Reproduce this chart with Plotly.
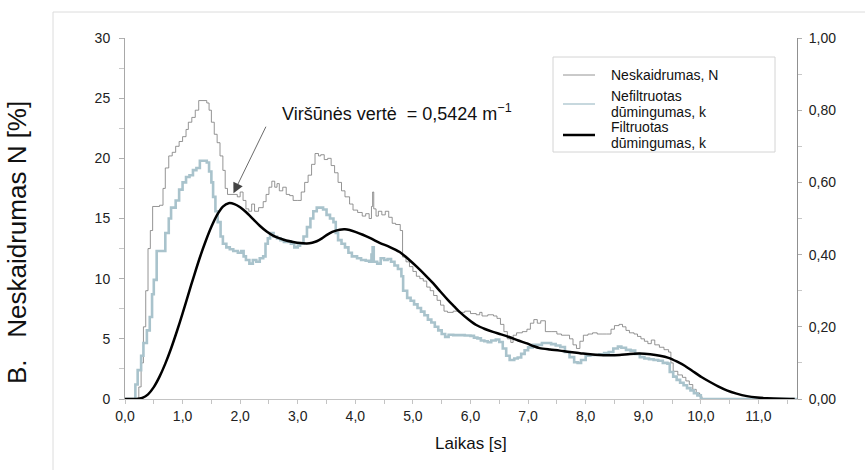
import plotly.graph_objects as go

# ---- data ----
# Neskaidrumas N [%] (left axis)
t_N = [0.0, 0.20, 0.24, 0.28, 0.32, 0.36, 0.40, 0.44, 0.48, 0.60, 0.66, 0.70, 0.76, 0.82, 0.88, 0.94,
       1.00, 1.06, 1.10, 1.16, 1.22, 1.28, 1.42, 1.46, 1.50, 1.55, 1.60, 1.65, 1.70, 1.74, 1.78, 1.95,
       2.00, 2.05, 2.10, 2.15, 2.20, 2.25, 2.32, 2.40, 2.45, 2.50, 2.55, 2.60, 2.64, 2.68, 2.74, 2.80,
       2.86, 2.92, 3.00, 3.06, 3.12, 3.18, 3.24, 3.30, 3.36, 3.40, 3.46, 3.52, 3.58, 3.64, 3.70, 3.76,
       3.82, 3.90, 3.96, 4.04, 4.12, 4.18, 4.24, 4.28, 4.30, 4.32, 4.36, 4.40, 4.46, 4.52, 4.58, 4.64,
       4.70, 4.78, 4.82, 4.88, 4.94, 5.00, 5.06, 5.12, 5.18, 5.24, 5.30, 5.36, 5.42, 5.48, 5.54, 5.60,
       5.70, 5.80, 5.90, 6.00, 6.10, 6.16, 6.20, 6.30, 6.40, 6.46, 6.52, 6.58, 6.64, 6.70, 6.74, 6.80,
       6.90, 6.98, 7.04, 7.10, 7.16, 7.22, 7.30, 7.40, 7.50, 7.58, 7.66, 7.72, 7.78, 7.84, 7.90, 7.96,
       8.04, 8.12, 8.20, 8.30, 8.36, 8.44, 8.50, 8.58, 8.64, 8.70, 8.76, 8.84, 8.90, 8.96, 9.02, 9.08,
       9.14, 9.20, 9.28, 9.36, 9.44, 9.48, 9.52, 9.60, 9.68, 9.74, 9.80, 9.86, 9.92, 9.98, 10.02, 11.67]
N_vals = [0, 0, 1.0, 3.0, 6.0, 9.0, 12.5, 14.0, 16.0, 16.1, 17.5, 19.2, 20.2, 20.5, 21.0, 21.4,
          21.8, 22.4, 23.0, 23.4, 24.0, 24.8, 24.6, 24.0, 23.0, 22.0, 21.3, 20.2, 19.0, 17.5, 17.0, 16.8,
          17.2, 16.5, 15.8, 15.6, 16.2, 15.6, 15.9, 16.4, 17.0, 17.6, 18.1, 17.6, 17.9, 17.3, 17.6, 17.0,
          16.9, 16.5, 16.5, 17.2, 18.0, 18.6, 19.5, 20.4, 20.2, 20.3, 19.9, 20.0, 19.4, 18.8, 18.0, 17.3,
          16.8, 16.2, 15.7, 15.5, 15.2, 15.4, 15.0, 16.0, 17.2, 15.8, 15.2, 15.6, 15.3, 15.6, 15.1, 14.6,
          14.5, 14.0, 11.8, 11.4, 11.0, 10.6, 10.2, 10.0, 9.8, 9.3, 9.0, 8.6, 8.2, 7.8, 7.3, 7.2,
          7.3, 7.2, 7.3, 7.1, 7.0, 7.2, 6.9, 7.0, 6.9, 6.7, 6.2, 5.6, 5.0, 4.7, 5.3, 5.5,
          5.6, 5.8, 6.3, 6.6, 6.3, 6.5, 5.6, 5.6, 5.4, 5.3, 5.3, 5.0, 4.5, 4.2, 4.8, 5.3,
          5.4, 5.5, 5.4, 5.4, 5.4, 5.8, 6.1, 6.2, 6.0, 5.7, 5.5, 5.4, 5.2, 5.0, 4.8, 4.6,
          4.9, 4.5, 4.3, 4.1, 3.9, 3.0, 2.3, 2.0, 1.8, 1.5, 1.2, 0.8, 0.5, 0.2, 0, 0]

# Nefiltruotas dumingumas k [1/m] (right axis)
t_k = [0.0, 0.14, 0.18, 0.22, 0.28, 0.32, 0.38, 0.43, 0.47, 0.50, 0.55, 0.66, 0.70, 0.76, 0.80, 0.88,
       0.94, 1.00, 1.06, 1.12, 1.18, 1.24, 1.30, 1.42, 1.46, 1.50, 1.53, 1.57, 1.61, 1.66, 1.70, 1.76,
       1.82, 1.88, 1.96, 2.02, 2.06, 2.10, 2.16, 2.22, 2.28, 2.34, 2.40, 2.44, 2.48, 2.52, 2.58, 2.64,
       2.70, 2.76, 2.82, 2.88, 2.94, 3.00, 3.04, 3.10, 3.16, 3.22, 3.27, 3.33, 3.44, 3.50, 3.56, 3.62,
       3.66, 3.70, 3.76, 3.82, 3.88, 3.94, 4.03, 4.10, 4.18, 4.24, 4.28, 4.30, 4.32, 4.38, 4.44, 4.50,
       4.56, 4.62, 4.68, 4.74, 4.80, 4.83, 4.90, 4.96, 5.02, 5.08, 5.14, 5.20, 5.26, 5.32, 5.38, 5.44,
       5.50, 5.56, 5.62, 5.70, 5.80, 5.90, 6.00, 6.06, 6.12, 6.18, 6.24, 6.30, 6.36, 6.44, 6.50, 6.56,
       6.62, 6.68, 6.76, 6.82, 6.88, 6.94, 7.00, 7.08, 7.16, 7.24, 7.32, 7.40, 7.48, 7.56, 7.64, 7.72,
       7.80, 7.86, 7.92, 8.00, 8.08, 8.16, 8.24, 8.32, 8.40, 8.48, 8.56, 8.62, 8.70, 8.78, 8.86, 8.94,
       9.02, 9.10, 9.18, 9.26, 9.34, 9.42, 9.46, 9.52, 9.58, 9.64, 9.70, 9.76, 9.82, 9.88, 9.94, 10.00,
       11.67]
k_raw = [0, 0, 0.04, 0.08, 0.12, 0.155, 0.19, 0.227, 0.29, 0.33, 0.41, 0.41, 0.46, 0.50, 0.53, 0.55,
         0.58, 0.60, 0.615, 0.62, 0.634, 0.64, 0.66, 0.655, 0.63, 0.60, 0.56, 0.52, 0.49, 0.45, 0.43, 0.42,
         0.415, 0.41, 0.405, 0.41, 0.395, 0.385, 0.375, 0.385, 0.38, 0.39, 0.395, 0.43, 0.445, 0.46, 0.45, 0.445,
         0.44, 0.435, 0.437, 0.43, 0.42, 0.425, 0.43, 0.45, 0.476, 0.50, 0.52, 0.53, 0.525, 0.51, 0.50, 0.49,
         0.46, 0.44, 0.43, 0.42, 0.405, 0.395, 0.39, 0.385, 0.383, 0.38, 0.40, 0.42, 0.38, 0.375, 0.39, 0.385,
         0.388, 0.38, 0.37, 0.36, 0.34, 0.30, 0.28, 0.272, 0.262, 0.252, 0.242, 0.232, 0.22, 0.212, 0.20, 0.19,
         0.18, 0.172, 0.178, 0.177, 0.177, 0.176, 0.175, 0.17, 0.168, 0.162, 0.16, 0.157, 0.162, 0.165, 0.158, 0.14,
         0.12, 0.108, 0.112, 0.115, 0.125, 0.135, 0.143, 0.15, 0.15, 0.155, 0.155, 0.152, 0.148, 0.144, 0.13, 0.116,
         0.102, 0.10, 0.108, 0.12, 0.122, 0.122, 0.124, 0.127, 0.13, 0.14, 0.145, 0.142, 0.136, 0.134, 0.125, 0.116,
         0.112, 0.11, 0.108, 0.106, 0.10, 0.098, 0.075, 0.062, 0.053, 0.045, 0.038, 0.03, 0.024, 0.016, 0.01, 0,
         0]

# Filtruotas dumingumas k [1/m] (right axis)
t_f = [0.0, 0.20, 0.30, 0.40, 0.50, 0.60, 0.70, 0.80, 0.90, 1.00, 1.10, 1.20, 1.30, 1.40, 1.50, 1.60,
       1.70, 1.80, 1.90, 2.00, 2.10, 2.22, 2.34, 2.46, 2.58, 2.69, 2.80, 2.92, 3.04, 3.16, 3.25, 3.33,
       3.42, 3.50, 3.60, 3.73, 3.82, 3.90, 4.00, 4.13, 4.28, 4.43, 4.60, 4.77, 4.92, 5.07, 5.21, 5.35,
       5.48, 5.61, 5.72, 5.82, 5.96, 6.10, 6.25, 6.39, 6.53, 6.68, 6.83, 6.98, 7.10, 7.20, 7.38, 7.55,
       7.72, 7.90, 8.08, 8.25, 8.42, 8.59, 8.77, 8.94, 9.12, 9.29, 9.44, 9.58, 9.72, 9.86, 10.01, 10.16,
       10.30, 10.45, 10.62, 10.80, 10.98, 11.15, 11.40, 11.63]
k_filt = [0, 0, 0.003, 0.013, 0.033, 0.062, 0.098, 0.140, 0.187, 0.237, 0.290, 0.342, 0.392, 0.437, 0.477, 0.510,
          0.533, 0.5424, 0.540, 0.531, 0.518, 0.499, 0.480, 0.464, 0.452, 0.445, 0.439, 0.435, 0.432, 0.431, 0.433, 0.437,
          0.445, 0.454, 0.463, 0.469, 0.470, 0.468, 0.463, 0.455, 0.444, 0.432, 0.421, 0.407, 0.388, 0.366, 0.344, 0.321,
          0.297, 0.274, 0.256, 0.240, 0.221, 0.205, 0.194, 0.186, 0.179, 0.171, 0.162, 0.154, 0.146, 0.141, 0.137, 0.134,
          0.130, 0.127, 0.124, 0.122, 0.121, 0.122, 0.125, 0.126, 0.124, 0.120, 0.114, 0.104, 0.092, 0.077, 0.061, 0.047,
          0.035, 0.024, 0.015, 0.008, 0.004, 0.002, 0.0005, 0]

legend_lines = [["Neskaidrumas, N"], ["Nefiltruotas", "dūmingumas, k"], ["Filtruotas", "dūmingumas, k"]]
x_ticks = [0, 1, 2, 3, 4, 5, 6, 7, 8, 9, 10, 11]
y_ticks = [0, 5, 10, 15, 20, 25, 30]
y2_ticks = [0, 0.2, 0.4, 0.6, 0.8, 1.0]

FONT = "Liberation Sans, Arial, sans-serif"
W, H = 865, 470
ML, MR, MT, MB = 125, 68, 38, 71
PW, PH = W - ML - MR, H - MT - MB


def px_x(p):
    return (p - ML) / PW


def px_y(p):
    return (H - MB - p) / PH


styles = [dict(color="#7a7a7a", width=0.8, shape="hv"),
          dict(color="#a9c3cc", width=2.6, shape="hv"),
          dict(color="#000000", width=2.5, shape="spline", smoothing=0.8)]
legend_sample_widths = [0.8, 1.3, 2.5]

fig = go.Figure()
fig.add_trace(go.Scatter(x=t_N, y=N_vals, name="Neskaidrumas, N", mode="lines",
                         line=styles[0], yaxis="y", showlegend=False))
fig.add_trace(go.Scatter(x=t_k, y=k_raw, name="Nefiltruotas dūmingumas, k", mode="lines",
                         line=styles[1], yaxis="y2", showlegend=False))
fig.add_trace(go.Scatter(x=t_f, y=k_filt, name="Filtruotas dūmingumas, k", mode="lines",
                         line=styles[2], yaxis="y2", showlegend=False))

peak_i = k_filt.index(max(k_filt))

shapes = [
    # outer light frame
    dict(type="rect", xref="paper", yref="paper", x0=px_x(53), y0=px_y(12), x1=px_x(900), y1=px_y(500),
         line=dict(color="#dcdcdc", width=1), fillcolor="rgba(0,0,0,0)", layer="below"),
    # legend box
    dict(type="rect", xref="paper", yref="paper", x0=px_x(553), y0=px_y(57), x1=px_x(775), y1=px_y(152),
         line=dict(color="#d4d4d4", width=1), fillcolor="white", layer="above"),
]
annotations = [
    dict(text="Viršūnės vertė\u00a0 = 0,5424 m<sup>−1</sup>", xref="paper", yref="paper",
         x=px_x(397), y=px_y(112), xanchor="center", yanchor="middle", showarrow=False,
         font=dict(family=FONT, size=18, color="#111")),
    dict(text="", x=t_f[peak_i], y=k_filt[peak_i], xref="x", yref="y2",
         showarrow=True, ax=38, ay=-78, arrowhead=2, arrowsize=2.6, arrowwidth=0.8,
         arrowcolor="#444", standoff=11),
    dict(text="B.\u00a0\u00a0 Neskaidrumas N [%]", xref="paper", yref="paper",
         x=px_x(17), y=px_y(242), textangle=-90, xanchor="center", yanchor="middle",
         showarrow=False, font=dict(family=FONT, size=26, color="#111")),
    dict(text="Laikas [s]", xref="paper", yref="paper", x=px_x(471), y=px_y(443),
         xanchor="center", yanchor="middle", showarrow=False,
         font=dict(family=FONT, size=17, color="#111")),
]

# manual legend (sample lines + text lines)
sample_y = [75, 104, 135]
text_y = [[75], [96, 112], [127, 143]]
for i in range(3):
    shapes.append(dict(type="line", xref="paper", yref="paper",
                       x0=px_x(563), x1=px_x(595), y0=px_y(sample_y[i]), y1=px_y(sample_y[i]),
                       line=dict(color=styles[i]["color"], width=legend_sample_widths[i]), layer="above"))
    for txt, ty in zip(legend_lines[i], text_y[i]):
        annotations.append(dict(text=txt, xref="paper", yref="paper", x=px_x(609), y=px_y(ty),
                                xanchor="left", yanchor="middle", showarrow=False,
                                font=dict(family=FONT, size=14, color="#111")))

fig.update_layout(
    width=W, height=H,
    margin=dict(l=ML, r=MR, t=MT, b=MB),
    paper_bgcolor="white", plot_bgcolor="white",
    separators=", ",
    font=dict(family=FONT, size=14, color="#222"),
    showlegend=False,
    xaxis=dict(range=[0, 11.67], tickvals=x_ticks, tickformat=".1f",
               showgrid=False, zeroline=False, showline=True, linecolor="#c4c4c4", linewidth=1,
               ticks="outside", ticklen=4, tickcolor="#c4c4c4",
               minor=dict(dtick=0.5, ticks="outside", ticklen=4, tickcolor="#c4c4c4"),
               tickfont=dict(size=14, color="#222")),
    yaxis=dict(range=[0, 30], tickvals=y_ticks,
               showgrid=False, zeroline=False, showline=True, linecolor="#a8a8a8", linewidth=1,
               ticks="outside", ticklen=5, tickcolor="#b0b0b0",
               minor=dict(dtick=2.5, ticks="outside", ticklen=5, tickcolor="#c8c8c8"),
               tickfont=dict(size=14, color="#222"), ticklabelstandoff=6),
    yaxis2=dict(range=[0, 1], tickvals=y2_ticks, tickformat=".2f", overlaying="y", side="right",
                showgrid=False, zeroline=False, showline=True, linecolor="#909090", linewidth=1,
                ticks="outside", ticklen=4, tickcolor="#b0b0b0",
                minor=dict(dtick=0.1, ticks="outside", ticklen=4, tickcolor="#c8c8c8"),
                tickfont=dict(size=14, color="#222"), ticklabelstandoff=4),
    shapes=shapes,
    annotations=annotations,
)

fig.write_html("out.html")
